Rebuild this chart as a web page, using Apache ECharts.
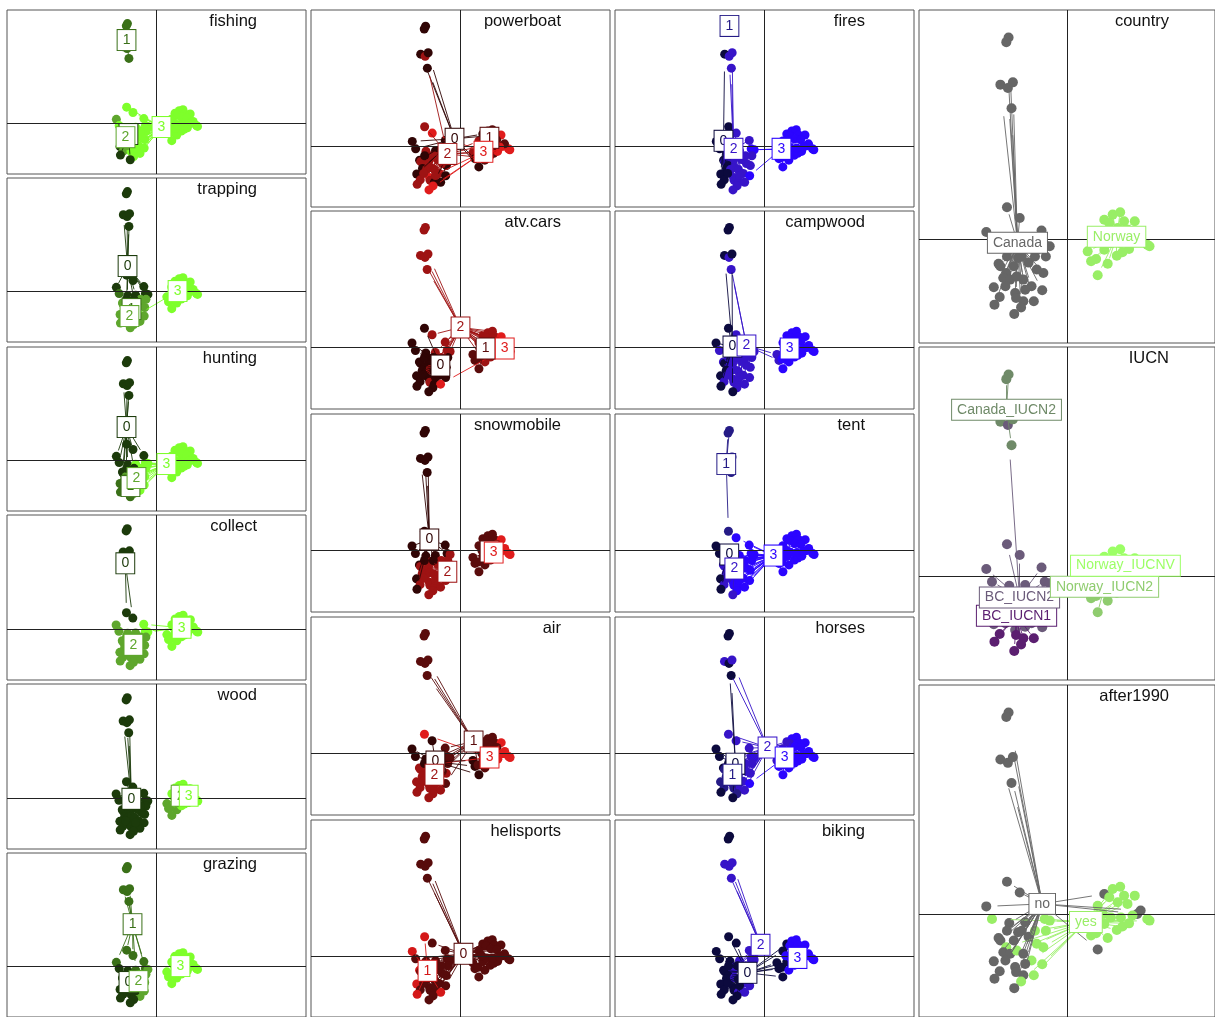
<!DOCTYPE html>
<html>
<head>
<meta charset="utf-8">
<script src="https://cdn.jsdelivr.net/npm/echarts@6/dist/echarts.min.js"></script>
<style>
html, body { margin: 0; padding: 0; background: #fff; }
#chart { width: 1215px; height: 1017px; }
</style>
</head>
<body>
<div id="chart"></div>
<script>
// individuals: top pair, upper cluster, stem, upper-left, left cluster (36), Norway cluster (26)
var pointX = [
  -0.257, -0.267,
  -0.293, -0.260, -0.238,
  -0.244,
  -0.264, -0.208,
  -0.355, -0.330, -0.254, -0.215, -0.184, -0.301, -0.293, -0.234, -0.267, -0.280,
  -0.250, -0.221, -0.192, -0.156, -0.109, -0.322, -0.296, -0.319, -0.228, -0.224,
  -0.192, -0.146, -0.202, -0.232, -0.098, -0.076, -0.093, -0.104, -0.133, -0.169,
  -0.141, -0.199, -0.264, -0.112, -0.271, -0.184,
  0.164, 0.201, 0.234, 0.251, 0.298, 0.186, 0.223, 0.135, 0.266, 0.309,
  0.353, 0.363, 0.324, 0.091, 0.106, 0.128, 0.179, 0.135, 0.219, 0.244,
  0.273, 0.164, 0.193, 0.237, 0.288, 0.157
];
var pointY = [
  0.88, 0.86,
  0.675, 0.66, 0.685,
  0.572,
  0.141, 0.094,
  0.033, -0.022, -0.04, -0.08, -0.036, -0.105, -0.116, -0.116, -0.145, -0.167,
  -0.174, -0.16, -0.174, -0.203, -0.22, -0.207, -0.25, -0.283, -0.232, -0.254,
  -0.268, -0.268, -0.295, -0.324, -0.022, -0.029, -0.073, -0.145, -0.13, -0.10,
  -0.073, -0.073, -0.073, 0.04, -0.203, -0.218,
  0.087, 0.109, 0.119, 0.08, 0.08, 0.073, 0.051, 0.036, 0.044, 0,
  -0.022, -0.029, 0.015, -0.051, -0.094, -0.084, -0.105, -0.155, -0.07, -0.055,
  -0.041, -0.044, -0.015, -0.015, -0.007, 0
];

// category of each individual (digit = level index, a-d = missing, drawn in that colour, no star)
var fishing    = "11 111 1 33 | 2323322332 2333302033 3330333333 333323 | 3333333333 3333333333 333333";
var trapping   = "aa 000 0 00 | 0102022122 2223222222 2222002221 200022 | 3333333333 3333333333 333333";
var hunting    = "aa 000 0 00 | 0002300221 2333311122 3321333332 300022 | 3333333333 3333333333 333333";
var collect    = "aa 000 0 00 | 2222222222 2222222222 2222332222 222322 | 3333333333 3333333333 333333";
var wood       = "aa 000 0 00 | 0000000000 0000000000 0000000000 000000 | 3333333333 3332222233 333333";
var grazing    = "bb 111 1 11 | 1002100000 0220200000 0200122200 200100 | 3333333333 3333333333 333333";
var powerboat  = "aa 020 0 23 | 0022002220 2222002232 0033202022 220022 | 0111301213 3312021011 321132";
var atvCars    = "cc 222 2 02 | 0000200000 0200000002 0300220000 200200 | 2222322223 3221112122 212222";
var snowmobile = "aa 000 0 00 | 0002002222 2222202022 2222022222 200022 | 1111311133 3331111111 311131";
var air        = "bb 111 1 30 | 0003122222 2222122222 2222111210 100122 | 1111311113 3330011011 311131";
var helisports = "aa 000 0 10 | 1000010000 0000010100 0100000000 000000 | 0000000000 0000000000 000000";
var fires      = "11 022 2 02 | 0022202200 2222300022 2222332222 220202 | 3333333333 3333333333 333333";
var campwood   = "aa 020 2 02 | 0202220220 2222202022 2220222222 222222 | 3333333333 3332233333 333333";
var tent       = "11 111 1 13 | 0033322322 2333302033 3332333333 333323 | 3333333333 3333333333 333333";
var horses     = "aa 202 0 22 | 0021201211 1222311021 2210232222 220212 | 2333323233 3332323333 323332";
var biking     = "aa 222 2 00 | 0002200200 0202200000 2200222020 200200 | 0333333033 3330003033 303333";
var country    = "00 000 0 00 | 0000000000 0000000000 0000000000 000000 | 1111111111 1111111111 111111";
var iucn       = "22 212 2 11 | 1111111111 1111110010 0000111111 111111 | 4444444444 4443333333 334443";
var after1990  = "00 000 0 00 | 0100000010 0101100000 0110111110 100000 | 0111111110 1101111011 111111";

var levels0123 = ["0", "1", "2", "3"];
var levels01 = ["0", "1"];
var countryLevels = ["Canada", "Norway"];
var iucnLevels = ["BC_IUCN1", "BC_IUCN2", "Canada_IUCN2", "Norway_IUCN2", "Norway_IUCNV"];
var after1990Levels = ["no", "yes"];

// label (centroid) positions per level
var fishingCentroids    = [[-0.248, -0.097], [-0.265, 0.734], [-0.274, -0.124], [0.044, -0.035]];
var trappingCentroids   = [[-0.256, 0.221], [-0.221, -0.159], [-0.239, -0.221], [0.186, 0]];
var huntingCentroids    = [[-0.265, 0.292], [-0.23, -0.23], [-0.177, -0.159], [0.088, -0.035]];
var collectCentroids    = [[-0.274, 0.575], null, [-0.203, -0.141], [0.221, 0.009]];
var woodCentroids       = [[-0.221, -0.009], null, [0.212, 0.018], [0.283, 0.018]];
var grazingCentroids    = [[-0.248, -0.141], [-0.212, 0.371], [-0.159, -0.133], [0.212, 0]];
var powerboatCentroids  = [[-0.044, 0.052], [0.213, 0.059], [-0.096, -0.059], [0.169, -0.044]];
var atvCarsCentroids    = [[-0.147, -0.132], [0.184, -0.007], [0, 0.147], [0.324, -0.007]];
var snowmobileCentroids = [[-0.228, 0.081], [0.213, -0.007], [-0.096, -0.155], [0.243, -0.015]];
var airCentroids        = [[-0.184, -0.059], [0.096, 0.088], [-0.191, -0.155], [0.213, -0.029]];
var helisportsCentroids = [[0.022, 0.015], [-0.243, -0.110]];
var firesCentroids      = [[-0.302, 0.037], [-0.258, 0.883], [-0.228, -0.022], [0.125, -0.022]];
var campwoodCentroids   = [[-0.235, 0.007], null, [-0.132, 0.015], [0.184, -0.007]];
var tentCentroids       = [[-0.258, -0.029], [-0.28, 0.633], [-0.221, -0.132], [0.066, -0.037]];
var horsesCentroids     = [[-0.213, -0.074], [-0.235, -0.155], [0.022, 0.044], [0.147, -0.029]];
var bikingCentroids     = [[-0.125, -0.125], null, [-0.029, 0.081], [0.243, -0.015]];
var countryCentroids    = [[-0.218, -0.013], [0.218, 0.013]];
var iucnCentroids       = [[-0.222, -0.170], [-0.209, -0.091], [-0.266, 0.727], [0.165, -0.044], [0.257, 0.048]];
var after1990Centroids  = [[-0.109, 0.044], [0.083, -0.035]];

var green = ["#1c3b0b", "#3a7018", "#5ea62d", "#7eff2b"];
var red = ["#300505", "#5a0c0c", "#9e1313", "#e01c1c"];
var heliRed = ["#570b0b", "#d41818"];
var blue = ["#0c0a3e", "#251b86", "#3714c8", "#2b05ff"];
var grayGreen = ["#666666", "#99ee66"];
var iucnColors = ["#5b1f70", "#6b5b7a", "#6f8a68", "#8fcc6f", "#9cff66"];

var panels = [
  { title: "fishing",    cats: fishing,    levels: levels0123, centroids: fishingCentroids,    colors: green, left: 7, top: 10,  width: 299, height: 164 },
  { title: "trapping",   cats: trapping,   levels: levels0123, centroids: trappingCentroids,   colors: green, left: 7, top: 178, width: 299, height: 164 },
  { title: "hunting",    cats: hunting,    levels: levels0123, centroids: huntingCentroids,    colors: green, left: 7, top: 347, width: 299, height: 164 },
  { title: "collect",    cats: collect,    levels: levels0123, centroids: collectCentroids,    colors: green, left: 7, top: 515, width: 299, height: 165 },
  { title: "wood",       cats: wood,       levels: levels0123, centroids: woodCentroids,       colors: green, left: 7, top: 684, width: 299, height: 165 },
  { title: "grazing",    cats: grazing,    levels: levels0123, centroids: grazingCentroids,    colors: green, left: 7, top: 853, width: 299, height: 164 },
  { title: "powerboat",  cats: powerboat,  levels: levels0123, centroids: powerboatCentroids,  colors: red, left: 311, top: 10,  width: 299, height: 197 },
  { title: "atv.cars",   cats: atvCars,    levels: levels0123, centroids: atvCarsCentroids,    colors: red, left: 311, top: 211, width: 299, height: 198 },
  { title: "snowmobile", cats: snowmobile, levels: levels0123, centroids: snowmobileCentroids, colors: red, left: 311, top: 414, width: 299, height: 198 },
  { title: "air",        cats: air,        levels: levels0123, centroids: airCentroids,        colors: red, left: 311, top: 617, width: 299, height: 198 },
  { title: "helisports", cats: helisports, levels: levels01,   centroids: helisportsCentroids, colors: heliRed, left: 311, top: 820, width: 299, height: 197 },
  { title: "fires",      cats: fires,      levels: levels0123, centroids: firesCentroids,      colors: blue, left: 615, top: 10,  width: 299, height: 197 },
  { title: "campwood",   cats: campwood,   levels: levels0123, centroids: campwoodCentroids,   colors: blue, left: 615, top: 211, width: 299, height: 198 },
  { title: "tent",       cats: tent,       levels: levels0123, centroids: tentCentroids,       colors: blue, left: 615, top: 414, width: 299, height: 198 },
  { title: "horses",     cats: horses,     levels: levels0123, centroids: horsesCentroids,     colors: blue, left: 615, top: 617, width: 299, height: 198 },
  { title: "biking",     cats: biking,     levels: levels0123, centroids: bikingCentroids,     colors: blue, left: 615, top: 820, width: 299, height: 197 },
  { title: "country",    cats: country,    levels: countryLevels,   centroids: countryCentroids,   colors: grayGreen, left: 919, top: 10,  width: 299, height: 333 },
  { title: "IUCN",       cats: iucn,       levels: iucnLevels,      centroids: iucnCentroids,      colors: iucnColors, left: 919, top: 347, width: 299, height: 333 },
  { title: "after1990",  cats: after1990,  levels: after1990Levels, centroids: after1990Centroids, colors: grayGreen, left: 919, top: 685, width: 299, height: 333 }
];

var yMin = -0.45, yMax = 1.0;
var starSize = 0.8;
var font = "'Liberation Sans', Arial, Helvetica, sans-serif";

var grids = [], xAxes = [], yAxes = [], series = [], titles = [];

panels.forEach(function (p, i) {
  var codes = p.cats.replace(/[^0-9a-d]/g, "");
  // same scale on both axes
  var half = (p.width / 2) / (p.height / (yMax - yMin));
  grids.push({
    left: p.left, top: p.top, width: p.width, height: p.height,
    show: true, borderColor: "#555", borderWidth: 1, backgroundColor: "#fff"
  });
  xAxes.push({ gridIndex: i, type: "value", min: -half, max: half, show: false });
  yAxes.push({ gridIndex: i, type: "value", min: yMin, max: yMax, show: false });
  titles.push({
    text: p.title, right: 1215 - (p.left + 250), top: p.top + 3, padding: 0,
    textStyle: { fontSize: 16.5, fontWeight: "normal", color: "#111", fontFamily: font }
  });

  var pts = [], stars = [];
  for (var k = 0; k < codes.length; k++) {
    var ch = codes[k];
    var miss = "abcd".indexOf(ch);
    var lvl = miss >= 0 ? miss : parseInt(ch, 10);
    var col = p.colors[lvl];
    pts.push({ value: [pointX[k], pointY[k]], itemStyle: { color: col, opacity: 1 } });
    if (miss < 0 && p.centroids[lvl]) {
      var c = p.centroids[lvl];
      stars.push({
        coords: [c, [c[0] + starSize * (pointX[k] - c[0]), c[1] + starSize * (pointY[k] - c[1])]],
        lineStyle: { color: col }
      });
    }
  }

  series.push({
    type: "scatter", xAxisIndex: i, yAxisIndex: i, z: 2, silent: true,
    symbolSize: p.height > 300 ? 10 : 9,
    itemStyle: { opacity: 1 },
    data: pts,
    markLine: {
      silent: true, symbol: ["none", "none"], label: { show: false },
      lineStyle: { color: "#222", width: 1, type: "solid", opacity: 1 },
      data: [{ xAxis: 0 }, { yAxis: 0 }]
    }
  });
  series.push({
    type: "lines", coordinateSystem: "cartesian2d", xAxisIndex: i, yAxisIndex: i,
    z: 3, silent: true, lineStyle: { width: 0.9, opacity: 1 }, data: stars
  });

  var labs = [];
  p.levels.forEach(function (name, li) {
    var c = p.centroids[li];
    if (!c) return;
    labs.push({
      name: name, value: c,
      label: { color: p.colors[li], borderColor: p.colors[li] }
    });
  });
  series.push({
    type: "scatter", xAxisIndex: i, yAxisIndex: i, z: 5, silent: true,
    symbolSize: 1, itemStyle: { color: "#fff", opacity: 1 },
    label: {
      show: true, position: "inside", formatter: "{b}", opacity: 1,
      fontSize: 14, fontFamily: font, backgroundColor: "#fff",
      borderWidth: 1, padding: [3, 5]
    },
    data: labs
  });
});

var chart = echarts.init(document.getElementById("chart"));
chart.setOption({
  animation: false,
  backgroundColor: "#fff",
  title: titles,
  grid: grids,
  xAxis: xAxes,
  yAxis: yAxes,
  series: series
});
</script>
</body>
</html>
